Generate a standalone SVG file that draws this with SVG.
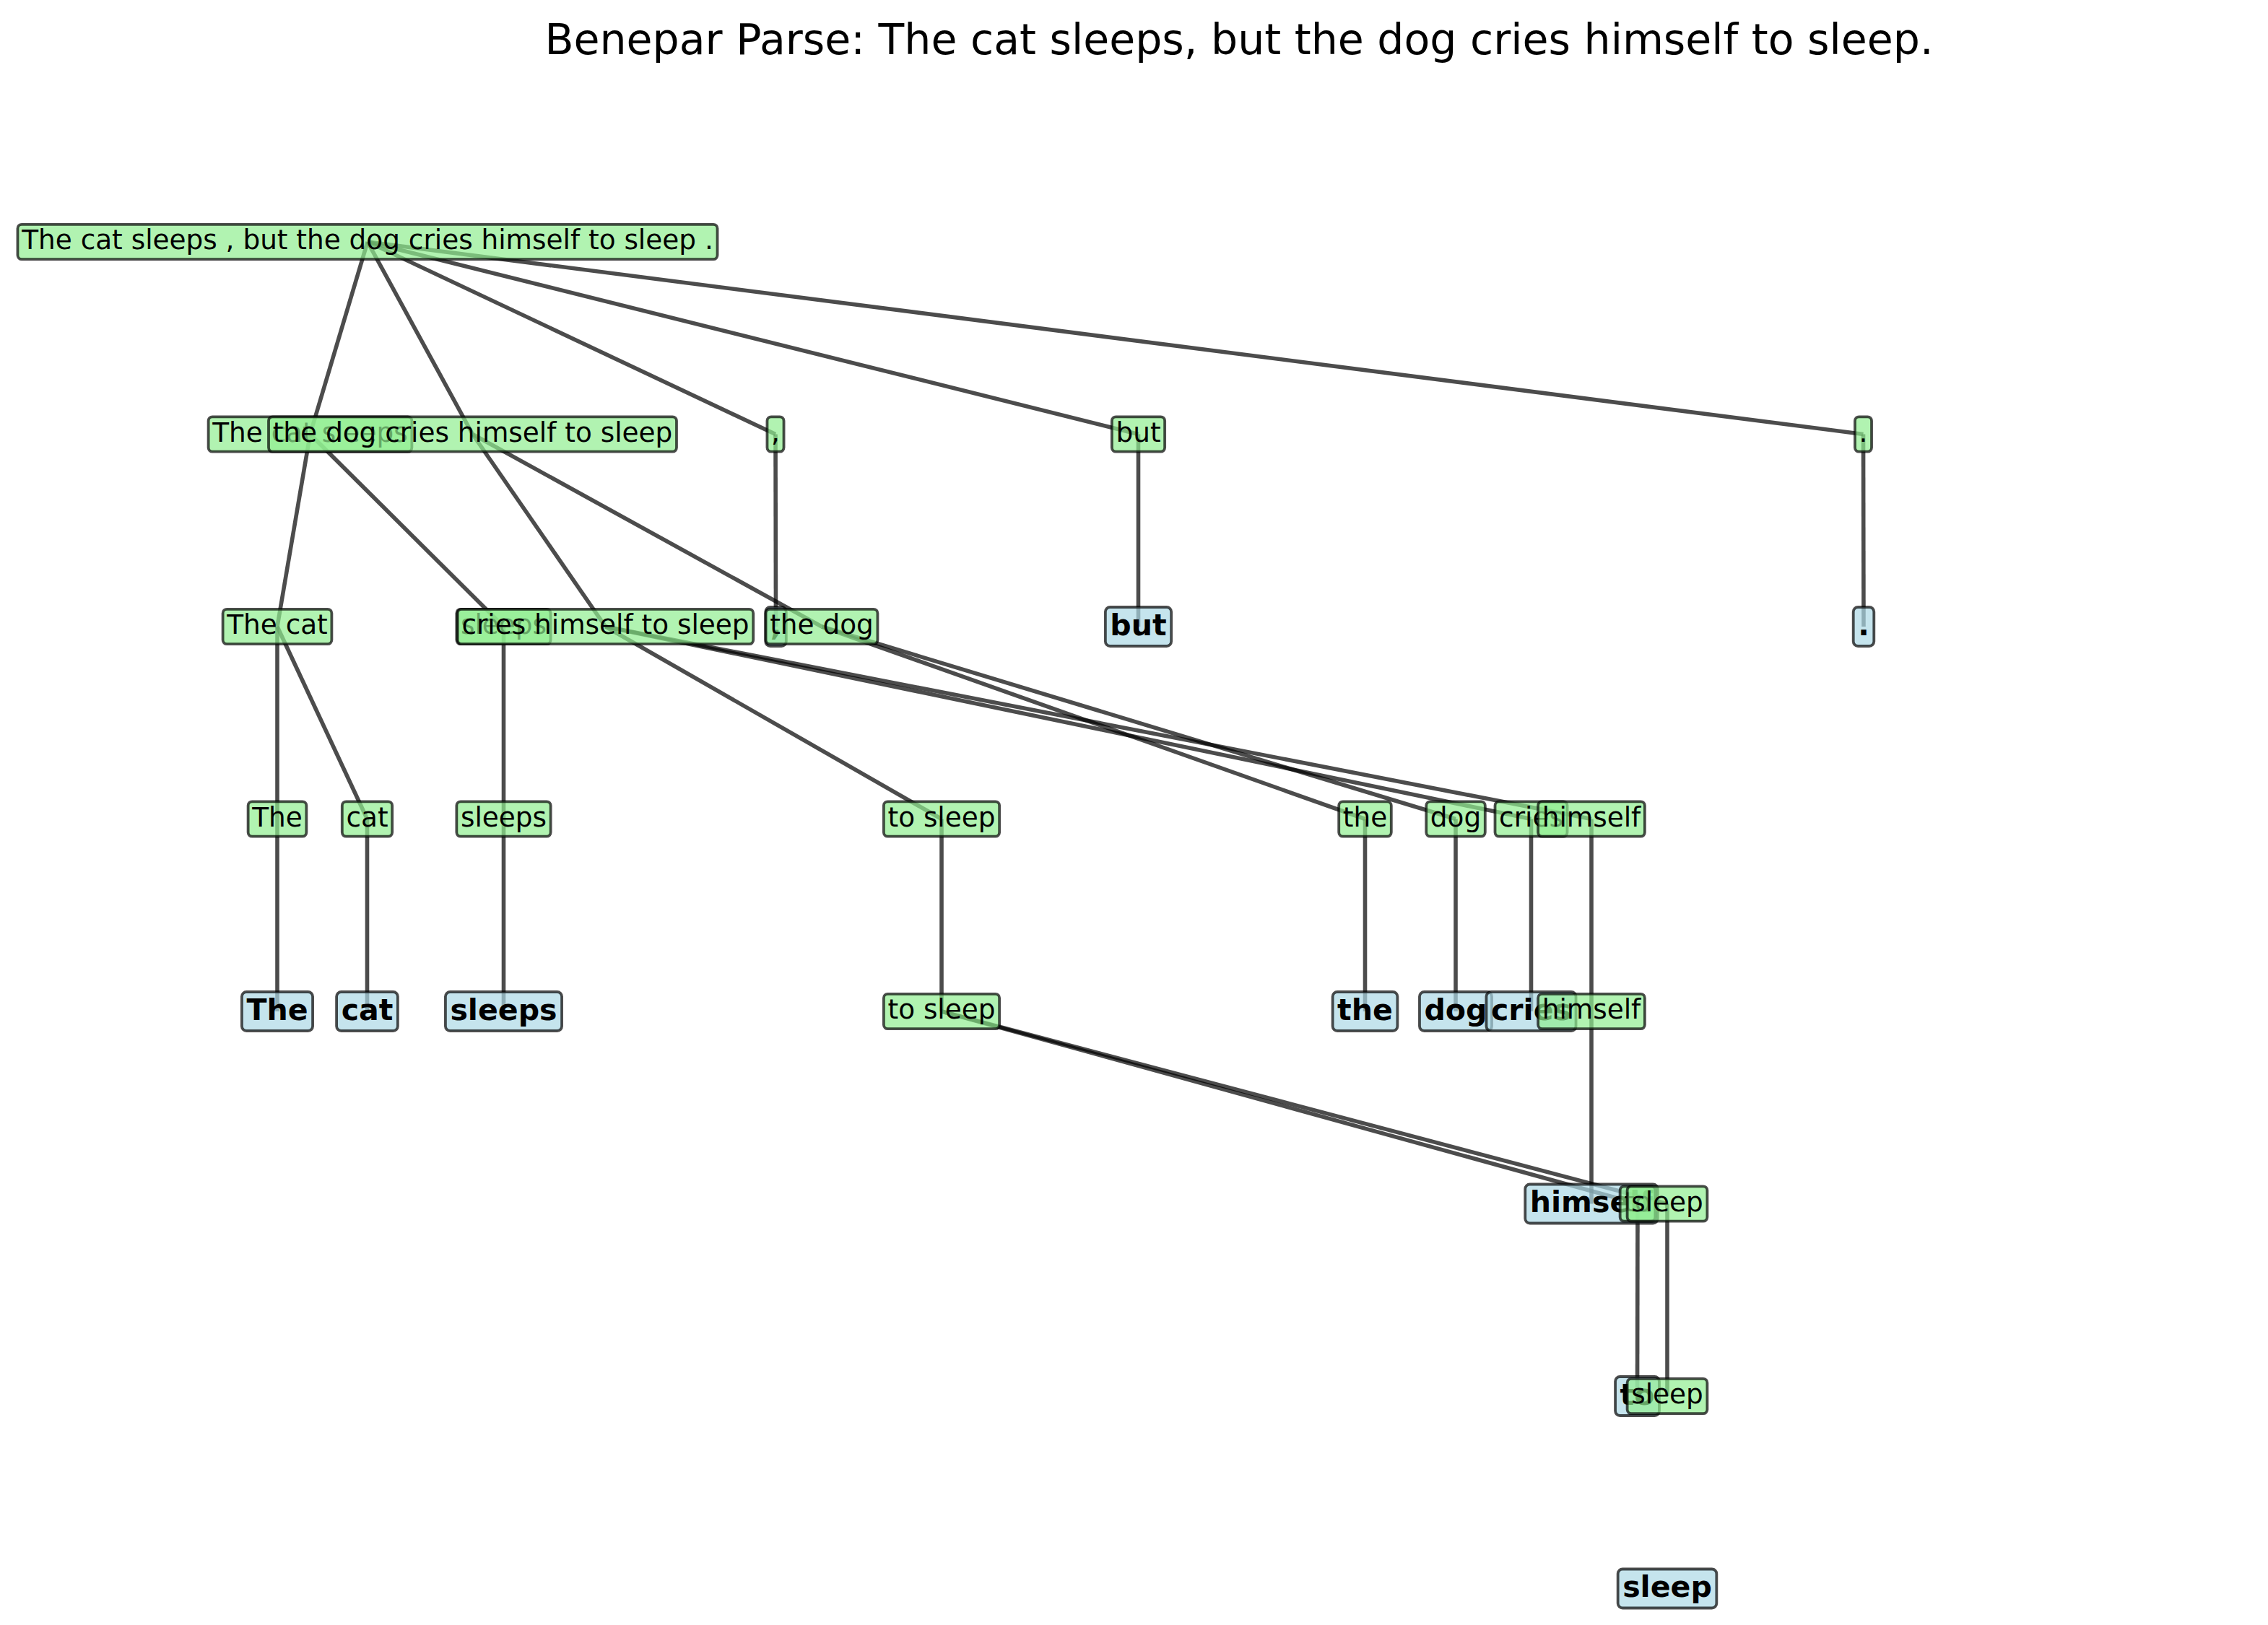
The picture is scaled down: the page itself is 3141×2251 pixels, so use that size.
<svg xmlns="http://www.w3.org/2000/svg" width="3141" height="2251" viewBox="0 0 3141 2251">
<style>
.bg{fill:#fff}
.e line{stroke:#000;stroke-opacity:.7;stroke-width:5.6;fill:none}
.g rect{fill:#90EE90;fill-opacity:.7;stroke:#000;stroke-opacity:.7;stroke-width:3.8}
.b rect{fill:#ADD8E6;fill-opacity:.7;stroke:#000;stroke-opacity:.7;stroke-width:3.8}
text{font-family:"DejaVu Sans","Liberation Sans",sans-serif;text-anchor:middle;fill:#000}
.g text{font-size:37.4px}
.b text{font-size:41.1px;font-weight:bold}
.title{font-size:58.5px}
</style>
<rect class="bg" x="0" y="0" width="3141" height="2251"/>
<text class="title" x="1716" y="75">Benepar Parse: The cat sleeps, but the dog cries himself to sleep.</text>
<g id="edges" class="e">
<line x1="509" y1="335" x2="429.5" y2="601.5"/>
<line x1="509" y1="335" x2="1074" y2="601.5"/>
<line x1="509" y1="335" x2="1576.5" y2="601.5"/>
<line x1="509" y1="335" x2="654.5" y2="601.5"/>
<line x1="509" y1="335" x2="2580.5" y2="601.5"/>
<line x1="429.5" y1="601.5" x2="384" y2="868"/>
<line x1="429.5" y1="601.5" x2="697.5" y2="868"/>
<line x1="384" y1="868" x2="384" y2="1134.5"/>
<line x1="384" y1="868" x2="508.5" y2="1134.5"/>
<line x1="384" y1="1134.5" x2="384" y2="1401"/>
<line x1="508.5" y1="1134.5" x2="508.5" y2="1401"/>
<line x1="697.5" y1="868" x2="697.5" y2="1134.5"/>
<line x1="697.5" y1="1134.5" x2="697.5" y2="1401"/>
<line x1="1074" y1="601.5" x2="1074.5" y2="868"/>
<line x1="1576.5" y1="601.5" x2="1576.5" y2="868"/>
<line x1="2580.5" y1="601.5" x2="2581" y2="868"/>
<line x1="654.5" y1="601.5" x2="1138" y2="868"/>
<line x1="654.5" y1="601.5" x2="838.5" y2="868"/>
<line x1="1138" y1="868" x2="1890.5" y2="1134.5"/>
<line x1="1138" y1="868" x2="2016" y2="1134.5"/>
<line x1="1890.5" y1="1134.5" x2="1890.5" y2="1401"/>
<line x1="2016" y1="1134.5" x2="2016" y2="1401"/>
<line x1="838.5" y1="868" x2="2120.5" y2="1134.5"/>
<line x1="838.5" y1="868" x2="2204" y2="1134.5"/>
<line x1="838.5" y1="868" x2="1304" y2="1134.5"/>
<line x1="2120.5" y1="1134.5" x2="2120.5" y2="1401"/>
<line x1="2204" y1="1134.5" x2="2204" y2="1401"/>
<line x1="2204" y1="1401" x2="2204" y2="1667.5"/>
<line x1="1304" y1="1134.5" x2="1304" y2="1401"/>
<line x1="1304" y1="1401" x2="2268" y2="1667.5"/>
<line x1="1304" y1="1401" x2="2309" y2="1667.5"/>
<line x1="2268" y1="1667.5" x2="2267.5" y2="1934"/>
<line x1="2309" y1="1667.5" x2="2309" y2="1934"/>
</g>
<g id="n_root" class="g"><rect x="24.45" y="310.8" width="969.1" height="48.4" rx="5.6"/><text x="509" y="345">The cat sleeps , but the dog cries himself to sleep .</text></g>
<g id="n_s1" class="g"><rect x="288.6" y="577.3" width="281.8" height="48.4" rx="5.6"/><text x="429.5" y="611.5">The cat sleeps</text></g>
<g id="n_np1" class="g"><rect x="308.6" y="843.8" width="150.8" height="48.4" rx="5.6"/><text x="384" y="878">The cat</text></g>
<g id="n_dt1" class="g"><rect x="343.6" y="1110.3" width="80.8" height="48.4" rx="5.6"/><text x="384" y="1144.5">The</text></g>
<g id="w_the1" class="b"><rect x="334.9" y="1374" width="98.2" height="54" rx="6.5"/><text x="384" y="1412.5">The</text></g>
<g id="n_nn1" class="g"><rect x="473.8" y="1110.3" width="69.4" height="48.4" rx="5.6"/><text x="508.5" y="1144.5">cat</text></g>
<g id="w_cat" class="b"><rect x="466.1" y="1374" width="84.8" height="54" rx="6.5"/><text x="508.5" y="1412.5">cat</text></g>
<g id="n_vp1" class="g"><rect x="632.35" y="843.8" width="130.3" height="48.4" rx="5.6"/><text x="697.5" y="878">sleeps</text></g>
<g id="n_vbz1" class="g"><rect x="632.35" y="1110.3" width="130.3" height="48.4" rx="5.6"/><text x="697.5" y="1144.5">sleeps</text></g>
<g id="w_sleeps" class="b"><rect x="616.9" y="1374" width="161.2" height="54" rx="6.5"/><text x="697.5" y="1412.5">sleeps</text></g>
<g id="n_comma" class="g"><rect x="1062.45" y="577.3" width="23.1" height="48.4" rx="5.6"/><text x="1074" y="611.5">,</text></g>
<g id="w_comma" class="b"><rect x="1060.2" y="841" width="28.6" height="54" rx="6.5"/><text x="1074.5" y="879.5">,</text></g>
<g id="n_but" class="g"><rect x="1539.85" y="577.3" width="73.3" height="48.4" rx="5.6"/><text x="1576.5" y="611.5">but</text></g>
<g id="w_but" class="b"><rect x="1530.85" y="841" width="91.3" height="54" rx="6.5"/><text x="1576.5" y="879.5">but</text></g>
<g id="n_s2" class="g"><rect x="372" y="577.3" width="565" height="48.4" rx="5.6"/><text x="654.5" y="611.5">the dog cries himself to sleep</text></g>
<g id="n_np2" class="g"><rect x="1060.55" y="843.8" width="154.9" height="48.4" rx="5.6"/><text x="1138" y="878">the dog</text></g>
<g id="n_dt2" class="g"><rect x="1854.2" y="1110.3" width="72.6" height="48.4" rx="5.6"/><text x="1890.5" y="1144.5">the</text></g>
<g id="w_the2" class="b"><rect x="1845.6" y="1374" width="89.8" height="54" rx="6.5"/><text x="1890.5" y="1412.5">the</text></g>
<g id="n_nn2" class="g"><rect x="1975.2" y="1110.3" width="81.6" height="48.4" rx="5.6"/><text x="2016" y="1144.5">dog</text></g>
<g id="w_dog" class="b"><rect x="1965.95" y="1374" width="100.1" height="54" rx="6.5"/><text x="2016" y="1412.5">dog</text></g>
<g id="n_vp2" class="g"><rect x="633.75" y="843.8" width="409.5" height="48.4" rx="5.6"/><text x="838.5" y="878">cries himself to sleep</text></g>
<g id="n_vbz2" class="g"><rect x="2070.5" y="1110.3" width="100" height="48.4" rx="5.6"/><text x="2120.5" y="1144.5">cries</text></g>
<g id="w_cries" class="b"><rect x="2058.45" y="1374" width="124.1" height="54" rx="6.5"/><text x="2120.5" y="1412.5">cries</text></g>
<g id="n_np3" class="g"><rect x="2130.1" y="1110.3" width="147.8" height="48.4" rx="5.6"/><text x="2204" y="1144.5">himself</text></g>
<g id="n_prp" class="g"><rect x="2130.1" y="1376.8" width="147.8" height="48.4" rx="5.6"/><text x="2204" y="1411">himself</text></g>
<g id="w_himself" class="b"><rect x="2112.25" y="1640.5" width="183.5" height="54" rx="6.5"/><text x="2204" y="1679">himself</text></g>
<g id="n_s3" class="g"><rect x="1223.85" y="1110.3" width="160.3" height="48.4" rx="5.6"/><text x="1304" y="1144.5">to sleep</text></g>
<g id="n_vp3" class="g"><rect x="1223.85" y="1376.8" width="160.3" height="48.4" rx="5.6"/><text x="1304" y="1411">to sleep</text></g>
<g id="n_to" class="g"><rect x="2243.65" y="1643.3" width="48.7" height="48.4" rx="5.6"/><text x="2268" y="1677.5">to</text></g>
<g id="w_to" class="b"><rect x="2237.05" y="1907" width="60.9" height="54" rx="6.5"/><text x="2267.5" y="1945.5">to</text></g>
<g id="n_vp4" class="g"><rect x="2253.6" y="1643.3" width="110.8" height="48.4" rx="5.6"/><text x="2309" y="1677.5">sleep</text></g>
<g id="n_vb" class="g"><rect x="2253.6" y="1909.8" width="110.8" height="48.4" rx="5.6"/><text x="2309" y="1944">sleep</text></g>
<g id="w_sleep" class="b"><rect x="2240.65" y="2173.5" width="136.7" height="54" rx="6.5"/><text x="2309" y="2212">sleep</text></g>
<g id="n_period" class="g"><rect x="2568.95" y="577.3" width="23.1" height="48.4" rx="5.6"/><text x="2580.5" y="611.5">.</text></g>
<g id="w_period" class="b"><rect x="2566.7" y="841" width="28.6" height="54" rx="6.5"/><text x="2581" y="879.5">.</text></g>
</svg>
